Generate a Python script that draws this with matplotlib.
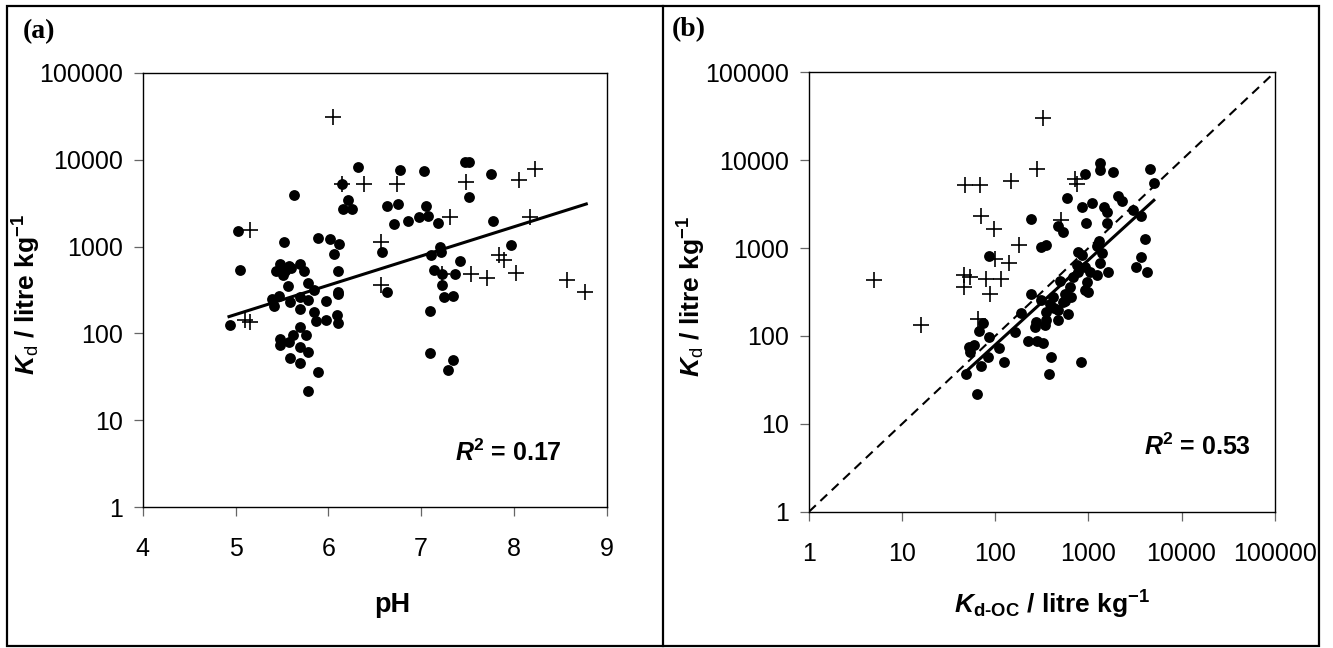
import numpy as np
import matplotlib.pyplot as plt
from matplotlib.patches import Rectangle
from matplotlib.lines import Line2D

plt.rcParams['font.family'] = ['Liberation Sans', 'DejaVu Sans']
plt.rcParams['mathtext.fontset'] = 'custom'
plt.rcParams['mathtext.rm'] = 'Liberation Sans'
plt.rcParams['mathtext.it'] = 'Liberation Sans:italic'
plt.rcParams['mathtext.bf'] = 'Liberation Sans:bold'
plt.rcParams['mathtext.bfit'] = 'Liberation Sans:italic:bold'

# panel (a): Kd vs pH
ph_dots = [4.94, 5.03, 5.05, 5.52, 5.63, 5.48, 5.58, 5.69, 5.44, 5.53, 5.60, 5.74, 5.51,
           6.32, 6.77, 6.15, 6.21, 6.16, 6.25, 6.63, 6.75, 6.71, 6.86, 6.98,
           5.89, 6.02, 6.11, 6.06, 6.58, 6.10, 5.57, 5.78, 5.85, 6.10, 6.10,
           5.39, 5.47, 5.42, 5.59, 5.69, 5.78, 5.69, 5.98,
           5.85, 5.87, 5.98, 6.09, 6.10, 5.69, 5.76, 5.62, 5.48, 5.48, 5.58,
           5.69, 5.78, 5.59, 5.69, 5.89, 5.78, 6.63,
           7.03, 7.47, 7.52, 7.75, 7.52, 7.05, 7.07, 7.18, 7.77, 7.20, 7.11,
           7.21, 7.97, 7.42, 7.14, 7.23, 7.36, 7.22, 7.25, 7.34, 7.10, 7.10,
           7.34, 7.29]
kd_dots_a = [126, 1500, 543, 1140, 3870, 630, 605, 630, 530, 520, 570, 530, 466,
             8200, 7650, 5250, 3390, 2700, 2700, 2950, 3100, 1800, 1970, 2190,
             1250, 1230, 1070, 810, 860, 520, 347, 378, 318, 300, 282,
             250, 267, 205, 229, 261, 240, 192, 237,
             176, 138, 141, 161, 131, 119, 95, 95, 87, 73, 79,
             69, 61, 52, 46, 36.5, 22, 299,
             7360, 9300, 9300, 6750, 3700, 2950, 2240, 1870, 1950, 980, 790,
             860, 1030, 680, 540, 478, 478, 363, 261, 273, 180, 60,
             50, 38]
ph_plus = [5.16, 6.15, 6.38, 6.74, 6.57, 6.57, 5.10, 5.16, 6.05, 7.48, 8.06,
           8.23, 7.31, 8.17, 7.84, 7.89, 8.02, 7.54, 7.71, 8.57, 8.77, 7.22]
kd_plus_a = [1550, 5250, 5250, 5250, 1120, 363, 143, 135, 31000, 5500, 5900,
             7800, 2190, 2190, 790, 700, 500, 478, 437, 414, 302, 480]
fit_a = (0.3366, 0.5345)          # log10(Kd) = slope * pH + intercept
ph_fit_range = [4.93, 8.78]

# panel (b): Kd vs Kd-OC
koc_dots = [1333, 1333, 1830, 916, 4550, 5040,
            590, 843, 1083, 1473, 1600, 2100, 2290, 3000, 3670,
            243, 472, 535, 940, 1575, 312, 353, 1300, 1230,
            4090, 3700, 3270, 4270, 86,
            776, 843, 745, 916, 1040, 1228, 955, 916, 1000, 1333, 1640, 1390,
            492, 641, 557, 417, 535, 312, 384, 353, 472, 605, 243,
            189, 275, 339, 264, 472, 164, 224, 280, 325,
            73, 67, 86, 52, 59, 54, 109, 83, 70, 49, 123, 400, 377, 831, 64,
            690, 780, 650, 430, 560, 350]
kd_dots_b = [9300, 7680, 7300, 7030, 8030, 5500,
             3700, 2920, 3250, 2970, 2600, 3870, 3400, 2720, 2290,
             2130, 1760, 1540, 1950, 1950, 1040, 1080, 1200, 1050,
             1260, 800, 612, 536, 810,
             908, 832, 640, 612, 537, 491, 412, 331, 316, 668, 537, 870,
             424, 361, 303, 277, 243, 259, 229, 186, 199, 176, 298,
             182, 144, 132, 126, 150, 110, 88, 88, 83,
             140, 115, 97, 74, 78, 65, 73, 57, 46, 37, 51, 57, 37, 51, 22,
             470, 540, 280, 210, 250, 150]
koc_plus = [47, 68, 148, 280, 716, 760, 70, 97, 179, 513, 100, 139,
            46, 54, 79, 115, 46, 87, 66, 4.97, 15.8, 326]
kd_plus_b = [5260, 5260, 5760, 7960, 6100, 5350, 2290, 1640, 1080, 2100, 743, 680,
             491, 470, 450, 450, 361, 303, 157, 431, 132, 30400]
fit_b = (0.966, -0.033)           # log10(Kd) = slope * log10(Kd-OC) + intercept
koc_fit_range = [46, 5040]

log_ticks = [1, 10, 100, 1000, 10000, 100000]
log_labels = ['1', '10', '100', '1000', '10000', '100000']
ph_ticks = [4, 5, 6, 7, 8, 9]

W, H = 1333, 648
fig = plt.figure(figsize=(W / 100, H / 100), dpi=100)

axA = fig.add_axes([142.7 / W, 1 - 507.3 / H, 464 / W, 434.6 / H])
axB = fig.add_axes([809 / W, 1 - 511.7 / H, 465.7 / W, 439.4 / H])

for ax in (axA, axB):
    ax.set_yscale('log')
    ax.set_ylim(1, 100000)
    ax.set_yticks(log_ticks)
    ax.set_yticklabels(log_labels)
    ax.tick_params(axis='both', direction='out', length=6.5, width=0.9,
                   color='#666666', labelsize=18)
    ax.tick_params(axis='x', pad=15)
    ax.tick_params(axis='y', pad=8)
    for sp in ax.spines.values():
        sp.set_linewidth(1.0)

# (a)
axA.set_xlim(4, 9)
axA.set_xticks(ph_ticks)
axA.set_xticklabels([str(t) for t in ph_ticks])
axA.minorticks_off()
axA.plot(ph_dots, kd_dots_a, 'o', color='black', ms=7.8, mew=0)
axA.plot(ph_plus, kd_plus_a, '+', color='black', ms=11, mew=1.2)
xf = np.array(ph_fit_range)
axA.plot(xf, 10 ** (fit_a[0] * xf + fit_a[1]), color='black', lw=2.2)
axA.set_xlabel('pH', fontsize=19.5, fontweight='bold')
axA.xaxis.set_label_coords(0.539, -0.196)
axA.set_ylabel(r'$\mathbfit{K}_{\mathrm{d}}$ / litre kg$^{\mathbf{-1}}$',
               fontsize=19, fontweight='bold')
axA.yaxis.set_label_coords(-0.215, 0.49)
axA.text(0.673, 0.106, r'$\mathbfit{R}^{\mathbf{2}}$ = 0.17', transform=axA.transAxes,
         fontsize=18, fontweight='bold', va='baseline')

# (b)
axB.set_xscale('log')
axB.set_xlim(1, 100000)
axB.set_xticks(log_ticks)
axB.set_xticklabels(log_labels)
axB.minorticks_off()
axB.plot([1, 100000], [1, 100000], color='black', lw=1.5, dashes=(4.5, 3))
axB.plot(koc_dots, kd_dots_b, 'o', color='black', ms=7.8, mew=0)
axB.plot(koc_plus, kd_plus_b, '+', color='black', ms=11, mew=1.2)
xk = np.array(koc_fit_range)
axB.plot(xk, 10 ** (fit_b[0] * np.log10(xk) + fit_b[1]), color='black', lw=2.2)
axB.set_xlabel('$\\mathbfit{K}_{\\mathbf{d\u2010OC}}$ / litre kg$^{\\mathbf{-1}}$',
               fontsize=19, fontweight='bold')
axB.xaxis.set_label_coords(0.523, -0.176)
axB.set_ylabel(r'$\mathbfit{K}_{\mathrm{d}}$ / litre kg$^{\mathbf{-1}}$',
               fontsize=19, fontweight='bold')
axB.yaxis.set_label_coords(-0.216, 0.49)
axB.text(0.719, 0.129, r'$\mathbfit{R}^{\mathbf{2}}$ = 0.53', transform=axB.transAxes,
         fontsize=18, fontweight='bold', va='baseline')

# panel letters
fig.text(23 / W, 1 - 19 / H, '(a)', fontsize=20, fontweight='bold',
         family='Liberation Serif', va='top', ha='left')
fig.text(672 / W, 1 - 17 / H, '(b)', fontsize=20, fontweight='bold',
         family='Liberation Serif', va='top', ha='left')

# outer frame and divider
fig.add_artist(Rectangle((6.7 / W, 1 - 645.7 / H), (1319.3 - 6.7) / W, (645.7 - 6) / H,
                         transform=fig.transFigure, fill=False, lw=1.6, ec='black'))
fig.add_artist(Line2D([662.7 / W, 662.7 / W], [1 - 645.7 / H, 1 - 6 / H],
                      transform=fig.transFigure, lw=1.6, color='black'))

fig.savefig('out.png', dpi=100)
